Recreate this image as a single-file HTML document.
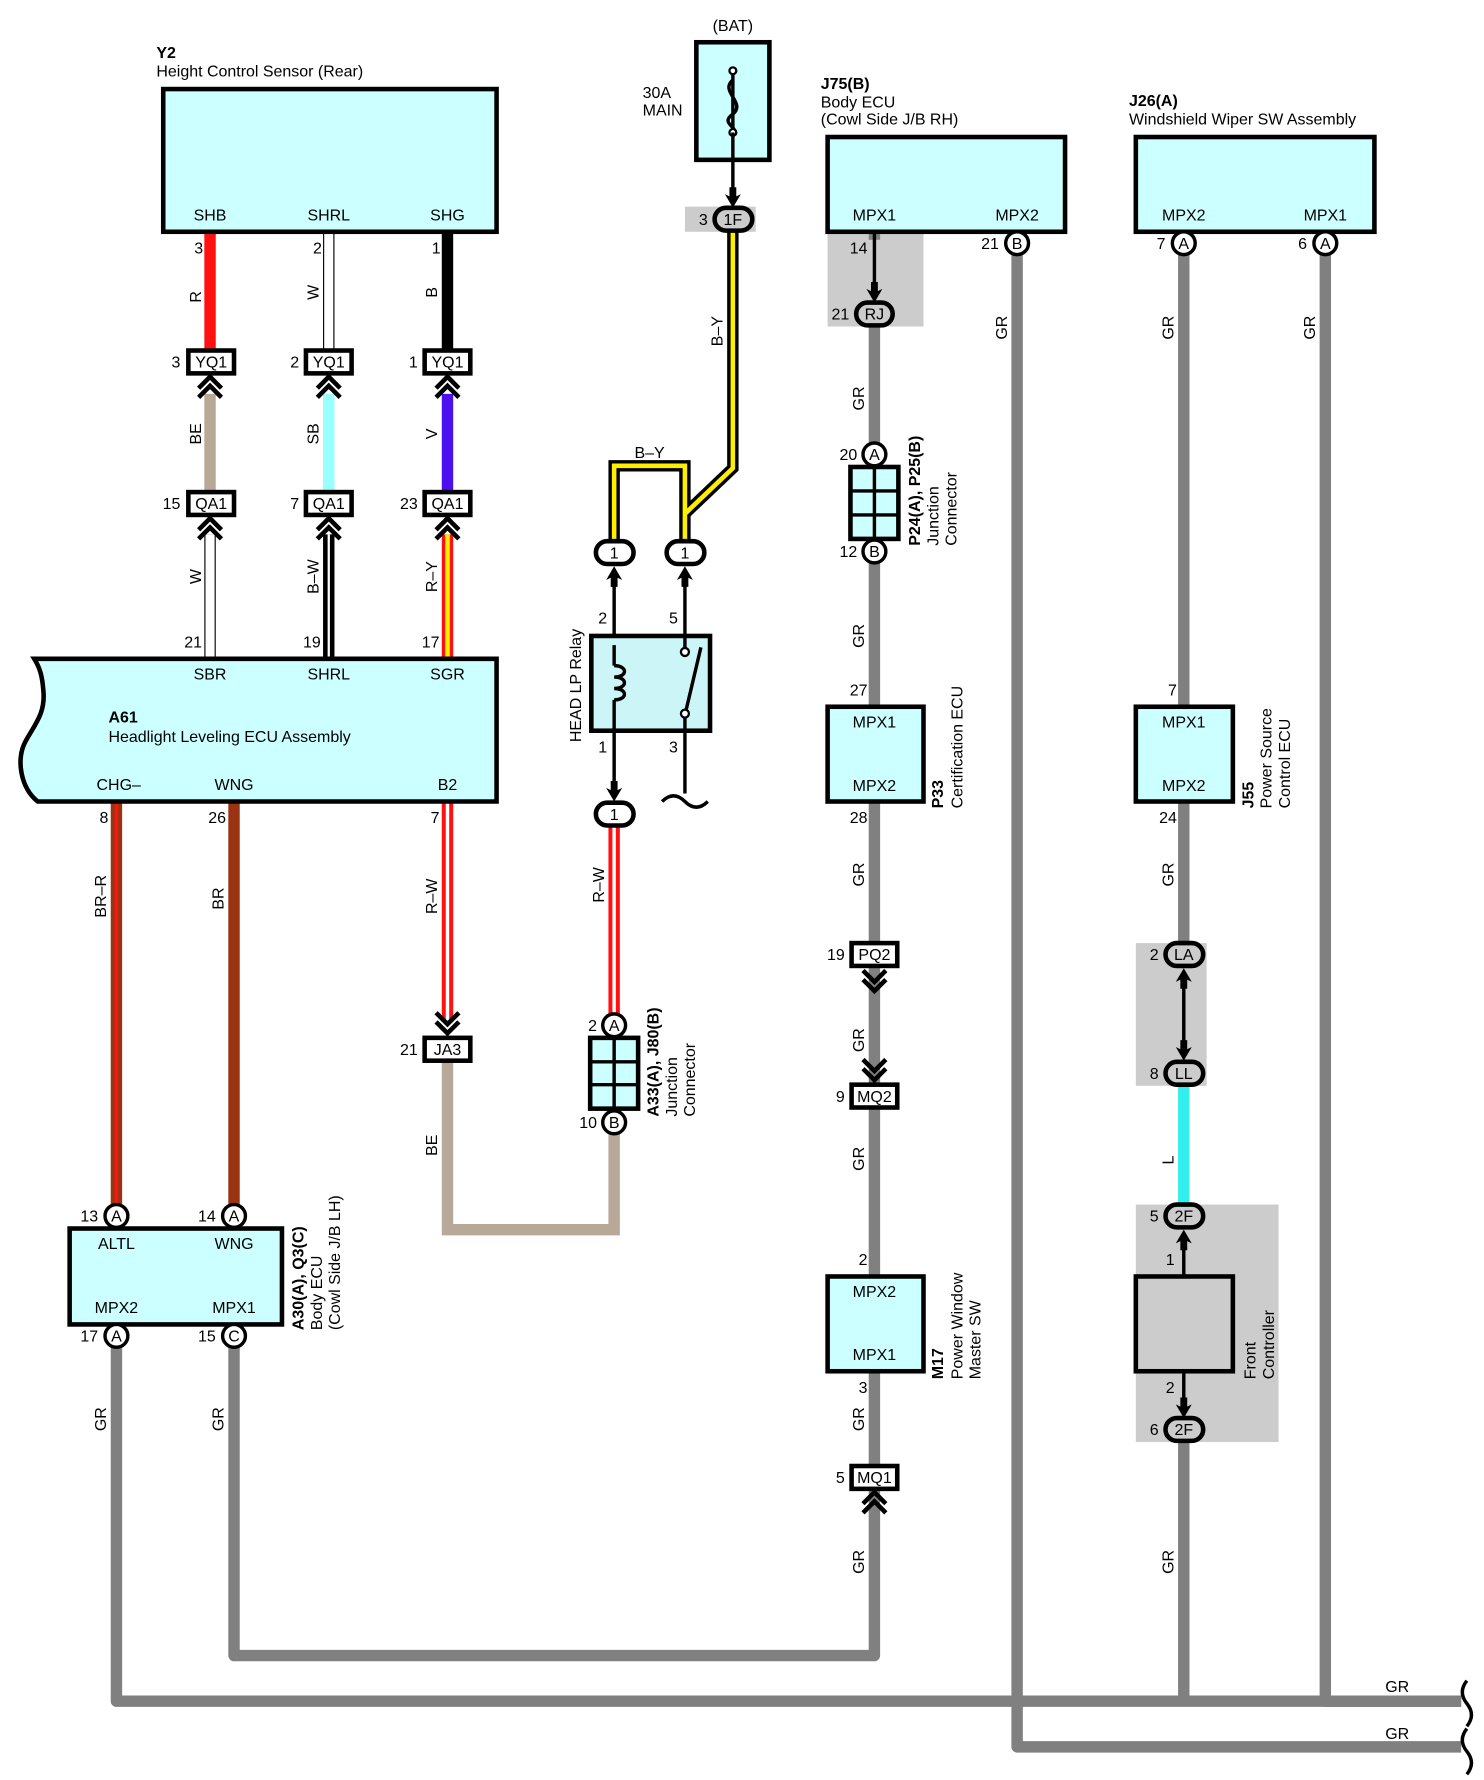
<!DOCTYPE html>
<html><head><meta charset="utf-8"><style>
html,body{margin:0;padding:0;background:#fff}
svg{display:block}
text{font-family:"Liberation Sans",Arial,sans-serif;font-size:14px;fill:#000}
.b{font-weight:bold}
</style></head><body>
<svg width="1484" height="1780" viewBox="0 0 1300 1559" preserveAspectRatio="none" xmlns="http://www.w3.org/2000/svg">
<defs>
<g id="chu"><path d="M-10,12 L0,2 L10,12 M-10,20 L0,10 L10,20" fill="none" stroke="#000" stroke-width="4"/></g>
<g id="chd"><path d="M-10,-12 L0,-2 L10,-12 M-10,-20 L0,-10 L10,-20" fill="none" stroke="#000" stroke-width="4"/></g>
<polygon id="au" points="0,0 -7,12 -3,10 -3,18 3,18 3,10 7,12"/>
<polygon id="ad" points="0,0 -7,-12 -3,-10 -3,-18 3,-18 3,-10 7,-12"/>
</defs>

<!-- gray shaded regions -->
<rect x="600" y="181" width="62" height="22" fill="#cccccc"/>
<rect x="725" y="203" width="84" height="83" fill="#cccccc"/>
<rect x="995" y="826" width="62" height="125" fill="#cccccc"/>
<rect x="995" y="1055" width="125" height="208" fill="#cccccc"/>

<!-- GR wires -->
<g fill="none" stroke="#808080" stroke-width="10" stroke-linejoin="round">
<path d="M766,286 V1450 H205 V1170"/>
<path d="M102,1170 V1490 H1280"/>
<path d="M1037,1263 V1490"/>
<path d="M1161,213 V1490 H1280"/>
<path d="M891,213 V1530 H1280"/>
<path d="M1037,213 V618"/>
<path d="M1037,702 V826"/>
<path d="M766,203 V210"/>
</g>
<line x1="1037" y1="951" x2="1037" y2="1055" stroke="#33eeee" stroke-width="10"/>
<!-- wavy ends -->
<path d="M1285,1472 q-8,10 0,20 q8,10 0,20 M1285,1514 q-8,10 0,20 q8,10 0,20" fill="none" stroke="#000" stroke-width="3"/>

<!-- top sensor wires -->
<line x1="184" y1="203" x2="184" y2="307" stroke="#ff1111" stroke-width="10"/>
<line x1="288" y1="203" x2="288" y2="307" stroke="#000" stroke-width="10"/>
<line x1="288" y1="203" x2="288" y2="307" stroke="#fff" stroke-width="8"/>
<line x1="392" y1="203" x2="392" y2="307" stroke="#000" stroke-width="10"/>
<line x1="184" y1="345" x2="184" y2="431" stroke="#b8a898" stroke-width="10"/>
<line x1="288" y1="345" x2="288" y2="431" stroke="#99ffff" stroke-width="10"/>
<line x1="392" y1="345" x2="392" y2="431" stroke="#4a11ee" stroke-width="10"/>
<line x1="184" y1="468" x2="184" y2="577" stroke="#000" stroke-width="10"/>
<line x1="184" y1="468" x2="184" y2="577" stroke="#fff" stroke-width="8"/>
<line x1="288" y1="468" x2="288" y2="577" stroke="#000" stroke-width="10"/>
<line x1="288" y1="468" x2="288" y2="577" stroke="#fff" stroke-width="2"/>
<line x1="392" y1="468" x2="392" y2="577" stroke="#ff1111" stroke-width="10"/>
<line x1="392" y1="468" x2="392" y2="577" stroke="#ffee00" stroke-width="4"/>

<!-- A61 lower wires -->
<line x1="102" y1="702" x2="102" y2="1055" stroke="#993311" stroke-width="10"/>
<line x1="102" y1="702" x2="102" y2="1055" stroke="#ff1111" stroke-width="3"/>
<line x1="205" y1="702" x2="205" y2="1055" stroke="#993311" stroke-width="10"/>
<line x1="392" y1="702" x2="392" y2="895" stroke="#ff1111" stroke-width="10"/>
<line x1="392" y1="702" x2="392" y2="895" stroke="#fff" stroke-width="3"/>
<path d="M392,929 V1077 H538 V985" fill="none" stroke="#b8a898" stroke-width="10"/>
<line x1="538" y1="722" x2="538" y2="888" stroke="#ff1111" stroke-width="10"/>
<line x1="538" y1="722" x2="538" y2="888" stroke="#fff" stroke-width="3"/>

<!-- B-Y wires -->
<g fill="none" stroke-linejoin="miter">
<path d="M538,474 V408 H600 V474 M600,450 L642,410 V182" stroke="#000" stroke-width="10"/>
<path d="M538,474 V408 H600 V474 M600,450 L642,410 V182" stroke="#ffee00" stroke-width="4"/>
</g>

<!-- Y2 -->
<text x="137" y="51" class="b">Y2</text>
<text x="137" y="67">Height Control Sensor (Rear)</text>
<rect x="143" y="78" width="292" height="125" fill="#ccffff" stroke="#000" stroke-width="4"/>
<text x="184" y="193" text-anchor="middle">SHB</text>
<text x="288" y="193" text-anchor="middle">SHRL</text>
<text x="392" y="193" text-anchor="middle">SHG</text>
<text x="178" y="222" text-anchor="end">3</text>
<text x="282" y="222" text-anchor="end">2</text>
<text x="386" y="222" text-anchor="end">1</text>
<text transform="translate(176,260) rotate(-90)" text-anchor="middle">R</text>
<text transform="translate(279,256) rotate(-90)" text-anchor="middle">W</text>
<text transform="translate(383,256) rotate(-90)" text-anchor="middle">B</text>

<!-- YQ1 connectors -->
<g stroke="#000" stroke-width="4" fill="#fff">
<rect x="165" y="307" width="40" height="20"/><rect x="268" y="307" width="40" height="20"/><rect x="372" y="307" width="40" height="20"/>
<rect x="165" y="431" width="40" height="20"/><rect x="268" y="431" width="40" height="20"/><rect x="372" y="431" width="40" height="20"/>
</g>
<text x="185" y="322" text-anchor="middle">YQ1</text><text x="288" y="322" text-anchor="middle">YQ1</text><text x="392" y="322" text-anchor="middle">YQ1</text>
<text x="185" y="446" text-anchor="middle">QA1</text><text x="288" y="446" text-anchor="middle">QA1</text><text x="392" y="446" text-anchor="middle">QA1</text>
<text x="158" y="322" text-anchor="end">3</text><text x="262" y="322" text-anchor="end">2</text><text x="366" y="322" text-anchor="end">1</text>
<text x="158" y="446" text-anchor="end">15</text><text x="262" y="446" text-anchor="end">7</text><text x="366" y="446" text-anchor="end">23</text>
<use href="#chu" x="184" y="328"/><use href="#chu" x="288" y="328"/><use href="#chu" x="392" y="328"/>
<use href="#chu" x="184" y="452"/><use href="#chu" x="288" y="452"/><use href="#chu" x="392" y="452"/>
<text transform="translate(176,380) rotate(-90)" text-anchor="middle">BE</text>
<text transform="translate(279,380) rotate(-90)" text-anchor="middle">SB</text>
<text transform="translate(383,380) rotate(-90)" text-anchor="middle">V</text>
<text transform="translate(176,505) rotate(-90)" text-anchor="middle">W</text>
<text transform="translate(279,505) rotate(-90)" text-anchor="middle">B–W</text>
<text transform="translate(383,505) rotate(-90)" text-anchor="middle">R–Y</text>
<text x="177" y="567" text-anchor="end">21</text><text x="281" y="567" text-anchor="end">19</text><text x="385" y="567" text-anchor="end">17</text>

<!-- A61 -->
<path d="M30,577 H435 V702 H33 C18,690 14,665 22,650 C30,635 40,625 38,605 C37,592 35,585 30,577 Z" fill="#ccffff" stroke="#000" stroke-width="4"/>
<text x="184" y="595" text-anchor="middle">SBR</text>
<text x="288" y="595" text-anchor="middle">SHRL</text>
<text x="392" y="595" text-anchor="middle">SGR</text>
<text x="95" y="633" class="b">A61</text>
<text x="95" y="650">Headlight Leveling ECU Assembly</text>
<text x="104" y="692" text-anchor="middle">CHG–</text>
<text x="205" y="692" text-anchor="middle">WNG</text>
<text x="392" y="692" text-anchor="middle">B2</text>
<text x="95" y="721" text-anchor="end">8</text>
<text x="198" y="721" text-anchor="end">26</text>
<text x="385" y="721" text-anchor="end">7</text>
<text transform="translate(93,785) rotate(-90)" text-anchor="middle">BR–R</text>
<text transform="translate(196,787) rotate(-90)" text-anchor="middle">BR</text>
<text transform="translate(383,785) rotate(-90)" text-anchor="middle">R–W</text>

<!-- JA3 -->
<use href="#chd" x="392" y="907"/>
<rect x="372" y="909" width="40" height="20" fill="#fff" stroke="#000" stroke-width="4"/>
<text x="392" y="924" text-anchor="middle">JA3</text>
<text x="366" y="924" text-anchor="end">21</text>
<text transform="translate(383,1003) rotate(-90)" text-anchor="middle">BE</text>

<!-- A30 -->
<rect x="61" y="1076" width="186" height="84" fill="#ccffff" stroke="#000" stroke-width="4"/>
<text x="102" y="1094" text-anchor="middle">ALTL</text>
<text x="205" y="1094" text-anchor="middle">WNG</text>
<text x="102" y="1150" text-anchor="middle">MPX2</text>
<text x="205" y="1150" text-anchor="middle">MPX1</text>
<g fill="#fff" stroke="#000" stroke-width="3">
<circle cx="102" cy="1065" r="10"/><circle cx="205" cy="1065" r="10"/><circle cx="102" cy="1170" r="10"/><circle cx="205" cy="1170" r="10"/>
</g>
<text x="102" y="1070" text-anchor="middle" font-size="13">A</text>
<text x="205" y="1070" text-anchor="middle" font-size="13">A</text>
<text x="102" y="1175" text-anchor="middle" font-size="13">A</text>
<text x="205" y="1175" text-anchor="middle" font-size="13">C</text>
<text x="86" y="1070" text-anchor="end">13</text><text x="189" y="1070" text-anchor="end">14</text>
<text x="86" y="1175" text-anchor="end">17</text><text x="189" y="1175" text-anchor="end">15</text>
<text transform="translate(266,1165) rotate(-90)" class="b">A30(A), Q3(C)</text>
<text transform="translate(282,1165) rotate(-90)">Body ECU</text>
<text transform="translate(298,1165) rotate(-90)">(Cowl Side J/B LH)</text>
<text transform="translate(93,1243) rotate(-90)" text-anchor="middle">GR</text>
<text transform="translate(196,1243) rotate(-90)" text-anchor="middle">GR</text>

<!-- Fuse -->
<text x="642" y="27" text-anchor="middle">(BAT)</text>
<text x="563" y="86">30A</text>
<text x="563" y="101">MAIN</text>
<rect x="610" y="37" width="64" height="103" fill="#ccffff" stroke="#000" stroke-width="4"/>
<line x1="642" y1="62" x2="642" y2="116" stroke="#000" stroke-width="3"/>
<path d="M642,70 C630,80 654,90 642,100 C630,108 648,112 642,116" fill="none" stroke="#000" stroke-width="3"/>
<circle cx="642" cy="62" r="3" fill="#fff" stroke="#000" stroke-width="2"/>
<circle cx="642" cy="116" r="3" fill="#fff" stroke="#000" stroke-width="2"/>
<line x1="642" y1="116" x2="642" y2="170" stroke="#000" stroke-width="3"/>
<use href="#ad" x="642" y="182"/>
<rect x="626" y="182" width="33" height="20" rx="10" fill="#ccc" stroke="#000" stroke-width="4"/>
<text x="642" y="197" text-anchor="middle">1F</text>
<text x="620" y="197" text-anchor="end">3</text>
<text transform="translate(633,290) rotate(-90)" text-anchor="middle">B–Y</text>
<text x="569" y="401" text-anchor="middle">B–Y</text>

<!-- relay -->
<g fill="#fff" stroke="#000" stroke-width="4">
<rect x="522" y="474" width="33" height="20" rx="10"/>
<rect x="584" y="474" width="33" height="20" rx="10"/>
<rect x="522" y="703" width="33" height="20" rx="10"/>
</g>
<text x="538" y="489" text-anchor="middle">1</text>
<text x="600" y="489" text-anchor="middle">1</text>
<text x="538" y="718" text-anchor="middle">1</text>
<g stroke="#000" stroke-width="3" fill="none">
<line x1="538" y1="510" x2="538" y2="583"/><line x1="538" y1="613" x2="538" y2="690"/>
<line x1="600" y1="510" x2="600" y2="570"/><line x1="600" y1="625" x2="600" y2="695"/>
</g>
<use href="#au" x="538" y="496"/><use href="#au" x="600" y="496"/><use href="#ad" x="538" y="702"/>
<rect x="518" y="557" width="104" height="83" fill="#ccf5f8" stroke="#000" stroke-width="4"/>
<path d="M538,583 C550,583 550,593 538,593 C550,593 550,603 538,603 C550,603 550,613 538,613" fill="none" stroke="#000" stroke-width="3"/>
<line x1="538" y1="565" x2="538" y2="583" stroke="#000" stroke-width="3"/>
<line x1="538" y1="613" x2="538" y2="640" stroke="#000" stroke-width="3"/>
<line x1="600" y1="557" x2="600" y2="570" stroke="#000" stroke-width="3"/>
<line x1="600" y1="625" x2="600" y2="640" stroke="#000" stroke-width="3"/>
<line x1="601" y1="622" x2="614" y2="567" stroke="#000" stroke-width="3"/>
<circle cx="600" cy="571" r="3.5" fill="#fff" stroke="#000" stroke-width="2"/>
<circle cx="600" cy="625" r="3.5" fill="#fff" stroke="#000" stroke-width="2"/>
<path d="M580,702 q10,-10 20,0 q10,10 20,0" fill="none" stroke="#000" stroke-width="3"/>
<text x="528" y="546" text-anchor="middle">2</text><text x="590" y="546" text-anchor="middle">5</text>
<text x="528" y="659" text-anchor="middle">1</text><text x="590" y="659" text-anchor="middle">3</text>
<text transform="translate(509,650) rotate(-90)">HEAD LP Relay</text>
<text transform="translate(529,775) rotate(-90)" text-anchor="middle">R–W</text>

<!-- A33 junction -->
<rect x="517" y="909" width="42" height="62" fill="#ccffff" stroke="#000" stroke-width="4"/>
<path d="M538,909 V971 M517,930 H559 M517,950 H559" stroke="#000" stroke-width="3"/>
<g fill="#fff" stroke="#000" stroke-width="3"><circle cx="538" cy="898" r="10"/><circle cx="538" cy="983" r="10"/></g>
<text x="538" y="903" text-anchor="middle" font-size="13">A</text>
<text x="538" y="988" text-anchor="middle" font-size="13">B</text>
<text x="523" y="903" text-anchor="end">2</text>
<text x="523" y="988" text-anchor="end">10</text>
<text transform="translate(577,978) rotate(-90)" class="b">A33(A), J80(B)</text>
<text transform="translate(593,978) rotate(-90)">Junction</text>
<text transform="translate(609,978) rotate(-90)">Connector</text>

<!-- J75 -->
<text x="719" y="78" class="b">J75(B)</text>
<text x="719" y="94">Body ECU</text>
<text x="719" y="109">(Cowl Side J/B RH)</text>
<rect x="725" y="120" width="208" height="83" fill="#ccffff" stroke="#000" stroke-width="4"/>
<text x="766" y="193" text-anchor="middle">MPX1</text>
<text x="891" y="193" text-anchor="middle">MPX2</text>
<line x1="766" y1="203" x2="766" y2="254" stroke="#000" stroke-width="3"/>
<use href="#ad" x="766" y="265"/>
<rect x="750" y="265" width="32" height="20" rx="10" fill="#ccc" stroke="#000" stroke-width="4"/>
<text x="766" y="280" text-anchor="middle">RJ</text>
<text x="744" y="280" text-anchor="end">21</text>
<text x="760" y="222" text-anchor="end">14</text>
<circle cx="891" cy="213" r="10" fill="#fff" stroke="#000" stroke-width="3"/>
<text x="891" y="218" text-anchor="middle" font-size="13">B</text>
<text x="875" y="218" text-anchor="end">21</text>
<text transform="translate(882,287) rotate(-90)" text-anchor="middle">GR</text>
<text transform="translate(757,349) rotate(-90)" text-anchor="middle">GR</text>

<!-- P24 -->
<rect x="745" y="409" width="42" height="63" fill="#ccffff" stroke="#000" stroke-width="4"/>
<path d="M766,409 V472 M745,430 H787 M745,451 H787" stroke="#000" stroke-width="3"/>
<g fill="#fff" stroke="#000" stroke-width="3"><circle cx="766" cy="398" r="10"/><circle cx="766" cy="483" r="10"/></g>
<text x="766" y="403" text-anchor="middle" font-size="13">A</text>
<text x="766" y="488" text-anchor="middle" font-size="13">B</text>
<text x="751" y="403" text-anchor="end">20</text>
<text x="751" y="488" text-anchor="end">12</text>
<text transform="translate(806,478) rotate(-90)" class="b">P24(A), P25(B)</text>
<text transform="translate(822,478) rotate(-90)">Junction</text>
<text transform="translate(838,478) rotate(-90)">Connector</text>
<text transform="translate(757,557) rotate(-90)" text-anchor="middle">GR</text>

<!-- P33 -->
<rect x="725" y="619" width="84" height="83" fill="#ccffff" stroke="#000" stroke-width="4"/>
<text x="766" y="637" text-anchor="middle">MPX1</text>
<text x="766" y="693" text-anchor="middle">MPX2</text>
<text x="760" y="609" text-anchor="end">27</text>
<text x="760" y="721" text-anchor="end">28</text>
<text transform="translate(826,708) rotate(-90)" class="b">P33</text>
<text transform="translate(843,708) rotate(-90)">Certification ECU</text>
<text transform="translate(757,766) rotate(-90)" text-anchor="middle">GR</text>

<!-- PQ2 / MQ2 -->
<rect x="746" y="826" width="40" height="20" fill="#fff" stroke="#000" stroke-width="4"/>
<text x="766" y="841" text-anchor="middle">PQ2</text>
<text x="740" y="841" text-anchor="end">19</text>
<use href="#chd" x="766" y="870"/>
<use href="#chd" x="766" y="948"/>
<rect x="746" y="950" width="40" height="20" fill="#fff" stroke="#000" stroke-width="4"/>
<text x="766" y="965" text-anchor="middle">MQ2</text>
<text x="740" y="965" text-anchor="end">9</text>
<text transform="translate(757,911) rotate(-90)" text-anchor="middle">GR</text>
<text transform="translate(757,1015) rotate(-90)" text-anchor="middle">GR</text>

<!-- M17 -->
<rect x="725" y="1118" width="84" height="83" fill="#ccffff" stroke="#000" stroke-width="4"/>
<text x="766" y="1136" text-anchor="middle">MPX2</text>
<text x="766" y="1191" text-anchor="middle">MPX1</text>
<text x="760" y="1108" text-anchor="end">2</text>
<text x="760" y="1220" text-anchor="end">3</text>
<text transform="translate(826,1208) rotate(-90)" class="b">M17</text>
<text transform="translate(843,1208) rotate(-90)">Power Window</text>
<text transform="translate(859,1208) rotate(-90)">Master SW</text>
<text transform="translate(757,1243) rotate(-90)" text-anchor="middle">GR</text>
<rect x="746" y="1284" width="40" height="20" fill="#fff" stroke="#000" stroke-width="4"/>
<text x="766" y="1299" text-anchor="middle">MQ1</text>
<text x="740" y="1299" text-anchor="end">5</text>
<use href="#chu" x="766" y="1305"/>
<text transform="translate(757,1368) rotate(-90)" text-anchor="middle">GR</text>

<!-- J26 -->
<text x="989" y="93" class="b">J26(A)</text>
<text x="989" y="109">Windshield Wiper SW Assembly</text>
<rect x="995" y="120" width="209" height="83" fill="#ccffff" stroke="#000" stroke-width="4"/>
<text x="1037" y="193" text-anchor="middle">MPX2</text>
<text x="1161" y="193" text-anchor="middle">MPX1</text>
<g fill="#fff" stroke="#000" stroke-width="3"><circle cx="1037" cy="213" r="10"/><circle cx="1161" cy="213" r="10"/></g>
<text x="1037" y="218" text-anchor="middle" font-size="13">A</text>
<text x="1161" y="218" text-anchor="middle" font-size="13">A</text>
<text x="1021" y="218" text-anchor="end">7</text>
<text x="1145" y="218" text-anchor="end">6</text>
<text transform="translate(1028,287) rotate(-90)" text-anchor="middle">GR</text>
<text transform="translate(1152,287) rotate(-90)" text-anchor="middle">GR</text>

<!-- J55 -->
<rect x="995" y="619" width="85" height="83" fill="#ccffff" stroke="#000" stroke-width="4"/>
<text x="1037" y="637" text-anchor="middle">MPX1</text>
<text x="1037" y="693" text-anchor="middle">MPX2</text>
<text x="1031" y="609" text-anchor="end">7</text>
<text x="1031" y="721" text-anchor="end">24</text>
<text transform="translate(1098,708) rotate(-90)" class="b">J55</text>
<text transform="translate(1114,708) rotate(-90)">Power Source</text>
<text transform="translate(1130,708) rotate(-90)">Control ECU</text>
<text transform="translate(1028,766) rotate(-90)" text-anchor="middle">GR</text>

<!-- LA / LL -->
<rect x="1021" y="826" width="33" height="20" rx="10" fill="#ccc" stroke="#000" stroke-width="4"/>
<text x="1037" y="841" text-anchor="middle">LA</text>
<text x="1015" y="841" text-anchor="end">2</text>
<line x1="1037" y1="858" x2="1037" y2="918" stroke="#000" stroke-width="3"/>
<use href="#au" x="1037" y="848"/><use href="#ad" x="1037" y="929"/>
<rect x="1021" y="930" width="33" height="20" rx="10" fill="#ccc" stroke="#000" stroke-width="4"/>
<text x="1037" y="945" text-anchor="middle">LL</text>
<text x="1015" y="945" text-anchor="end">8</text>
<text transform="translate(1028,1016) rotate(-90)" text-anchor="middle">L</text>

<!-- Front controller -->
<rect x="1021" y="1055" width="33" height="20" rx="10" fill="#ccc" stroke="#000" stroke-width="4"/>
<text x="1037" y="1070" text-anchor="middle">2F</text>
<text x="1015" y="1070" text-anchor="end">5</text>
<line x1="1037" y1="1087" x2="1037" y2="1118" stroke="#000" stroke-width="3"/>
<use href="#au" x="1037" y="1077"/>
<text x="1029" y="1108" text-anchor="end">1</text>
<rect x="995" y="1118" width="85" height="83" fill="#ccc" stroke="#000" stroke-width="4"/>
<line x1="1037" y1="1201" x2="1037" y2="1231" stroke="#000" stroke-width="3"/>
<use href="#ad" x="1037" y="1242"/>
<text x="1029" y="1220" text-anchor="end">2</text>
<rect x="1021" y="1242" width="33" height="20" rx="10" fill="#ccc" stroke="#000" stroke-width="4"/>
<text x="1037" y="1257" text-anchor="middle">2F</text>
<text x="1015" y="1257" text-anchor="end">6</text>
<text transform="translate(1100,1208) rotate(-90)">Front</text>
<text transform="translate(1116,1208) rotate(-90)">Controller</text>
<text transform="translate(1028,1368) rotate(-90)" text-anchor="middle">GR</text>

<text x="1224" y="1482" text-anchor="middle">GR</text>
<text x="1224" y="1523" text-anchor="middle">GR</text>
</svg>
</body></html>
